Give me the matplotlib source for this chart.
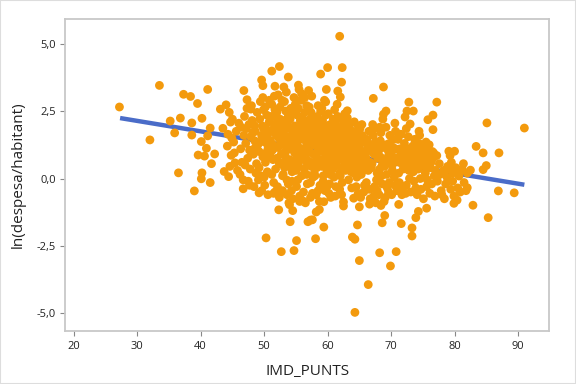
import matplotlib
matplotlib.use("Agg")
import matplotlib.pyplot as plt
from matplotlib.ticker import FuncFormatter, FixedLocator
from matplotlib.patches import Rectangle

# ---- data (IMD_PUNTS, ln(despesa/habitant)) ----
outlier_pts = [
    (27.2, 2.65), (32.0, 1.43), (33.5, 3.45), (35.2, 2.13), (35.9, 1.69), (36.5, 0.21),
    (36.8, 2.24), (37.3, 3.12), (38.4, 3.04), (38.6, 2.06), (38.6, 1.61), (39.0, -0.46),
    (39.5, 2.78), (39.6, 0.87), (40.1, 1.37), (40.2, 2.23), (40.1, -0.01), (40.2, 0.21),
    (40.6, 0.83), (41.1, 3.30), (40.9, 1.12), (41.1, 1.58), (41.5, 1.87), (41.5, -0.15),
    (41.7, 0.55), (42.2, 0.91), (43.1, 2.57), (43.5, 1.86), (43.7, 0.26), (44.0, 2.73),
    (44.3, 1.64), (44.4, 0.07), (44.7, 2.09), (44.8, 0.86), (45.4, 0.58), (46.8, 3.26),
    (46.7, -0.38), (47.3, 2.92), (47.9, 2.57), (47.7, -0.25), (49.2, -0.53), (49.6, 3.65),
    (49.8, 3.44), (50.3, -2.20), (51.2, 3.98), (51.7, -0.50), (51.7, 3.42), (52.4, 4.15),
    (52.3, -1.16), (52.7, -2.71), (53.1, 3.39), (53.6, -0.06), (53.8, 3.76), (54.0, -0.97),
    (54.1, -1.60), (54.5, -1.19), (54.7, -2.67), (55.1, -2.30), (55.4, 3.46), (55.9, 3.14),
    (55.6, -0.85), (56.2, -0.84), (56.9, -1.60), (57.0, 3.26), (57.3, -1.54), (57.6, -1.53),
    (58.1, -2.23), (58.2, -1.24), (58.7, -1.15), (58.9, 3.87), (59.4, -1.80), (59.7, 2.84),
    (59.8, 3.30), (59.4, -0.86), (60.0, 4.11), (61.9, 5.27), (61.6, 3.24), (62.0, 3.02),
    (62.2, 3.57), (62.3, 4.11), (62.5, -1.02), (62.5, -0.87), (63.1, 2.51), (64.1, -0.73),
    (63.9, -2.17), (64.3, -2.25), (64.3, -4.96), (64.7, -1.72), (65.0, -1.05), (65.0, -3.04),
    (66.4, -3.93), (67.2, 2.97), (68.2, -2.75), (68.8, 2.38), (68.8, 3.39), (69.2, 2.50),
    (68.6, -1.64), (69.0, -1.37), (69.9, -3.24), (70.8, -2.71), (71.2, -0.96), (71.6, -1.67),
    (71.6, 1.64), (72.2, 2.28), (72.5, 2.50), (72.8, 2.83), (73.0, 2.02), (73.3, -1.83),
    (73.3, -2.13), (73.5, 2.50), (73.9, -1.45), (74.3, -1.22), (75.6, -1.10), (75.8, 2.18),
    (76.6, 2.35), (76.6, 1.81), (77.2, 2.83), (79.1, 1.01), (80.0, 1.01), (79.7, -0.10),
    (79.9, -0.92), (80.7, 0.09), (81.4, 0.55), (82.0, -0.34), (82.5, 0.31), (82.9, -0.99),
    (83.4, 1.19), (84.5, 0.95), (84.5, 0.33), (85.1, 2.06), (85.0, 0.48), (85.3, -1.45),
    (86.9, -0.46), (87.0, 0.95), (89.4, -0.53), (91.0, 1.87),
]

blob_pts = [
    (44.2,1.2),(44.6,0.45),(44.9,1.5),(44.5,2.45),(45.0,2.2),(45.3,0.95),(45.6,1.75),(45.8,0.3),(45.2,1.35),
    (46.0,2.05),(46.3,1.1),(46.5,0.6),(46.8,1.6),(46.2,0.15),(46.9,2.3),(46.4,1.9),(46.7,-0.05),
    (47.1,1.3),(47.4,0.75),(47.6,2.0),(47.2,1.85),(47.8,0.35),(47.5,-0.1),(47.9,1.55),(47.3,2.6),(47.7,1.05),(47.0,0.5),
    (48.1,2.15),(48.3,0.9),(48.5,1.4),(48.7,0.2),(48.2,1.7),(48.9,2.45),(48.4,-0.3),(48.6,1.15),(48.8,0.55),(48.0,2.7),(48.5,1.95),
    (49.0,1.25),(49.2,0.4),(49.4,2.85),(49.6,1.6),(49.8,0.8),(49.1,-0.05),(49.3,2.2),(49.7,1.95),(49.5,0.1),(49.9,2.55),(49.2,1.0),(49.6,-0.45),(49.8,3.0),
    (50.0,1.5),(50.2,0.6),(50.4,2.35),(50.6,1.1),(50.8,2.9),(50.1,-0.25),(50.3,1.85),(50.5,0.25),(50.7,1.7),(50.9,0.9),(50.2,2.65),(50.6,-0.6),(50.4,1.3),(50.8,2.1),(50.0,0.05),
    (51.0,1.4),(51.2,2.75),(51.4,0.7),(51.6,1.9),(51.8,0.35),(51.1,2.3),(51.3,1.05),(51.5,-0.15),(51.7,2.55),(51.9,1.6),(51.2,0.15),(51.6,3.05),(51.4,1.25),(51.8,2.0),(51.0,0.8),(51.5,-0.55),
    (52.0,2.45),(52.2,1.15),(52.4,0.55),(52.6,1.8),(52.8,2.9),(52.1,-0.3),(52.3,1.5),(52.5,2.2),(52.7,0.9),(52.9,0.1),(52.2,3.1),(52.6,1.35),(52.4,-0.7),(52.8,1.95),(52.0,0.75),(52.5,2.65),(52.9,-0.45),
    (53.0,1.7),(53.2,0.4),(53.4,2.5),(53.6,1.2),(53.8,-0.2),(53.1,2.05),(53.3,0.85),(53.5,3.2),(53.7,1.55),(53.9,0.65),(53.2,2.85),(53.6,-0.6),(53.4,1.0),(53.8,2.3),(53.0,0.15),(53.5,1.85),(53.9,-0.9),
    (54.0,1.35),(54.2,2.6),(54.4,0.25),(54.6,1.75),(54.8,0.95),(54.1,2.2),(54.3,-0.45),(54.5,1.5),(54.7,3.0),(54.9,0.55),(54.2,1.1),(54.6,2.4),(54.4,-0.1),(54.8,1.95),(54.0,0.7),(54.5,-0.75),(54.9,2.75),(54.3,1.6),
    (55.0,1.25),(55.2,2.35),(55.4,0.5),(55.6,1.65),(55.8,2.9),(55.1,-0.3),(55.3,1.9),(55.5,0.85),(55.7,2.15),(55.9,0.1),(55.2,1.45),(55.6,-0.65),(55.4,2.6),(55.8,1.1),(55.0,0.3),(55.5,3.3),(55.9,1.75),(55.3,-0.05),
    (56.0,1.55),(56.2,0.7),(56.4,2.45),(56.6,1.15),(56.8,-0.2),(56.1,2.0),(56.3,0.35),(56.5,1.8),(56.7,2.7),(56.9,0.95),(56.2,-0.5),(56.6,1.4),(56.4,3.0),(56.8,0.55),(56.0,2.25),(56.5,-0.9),(56.9,1.6),(56.3,1.05),(56.7,0.15),
    (57.0,1.3),(57.2,2.2),(57.4,0.45),(57.6,1.7),(57.8,0.9),(57.1,2.65),(57.3,-0.15),(57.5,1.5),(57.7,2.0),(57.9,0.2),(57.2,1.0),(57.6,-0.55),(57.4,2.45),(57.8,1.25),(57.0,0.65),(57.5,3.05),(57.9,1.85),(57.3,-0.7),(57.7,0.05),
    (58.0,1.6),(58.2,0.8),(58.4,2.3),(58.6,1.2),(58.8,-0.25),(58.1,1.95),(58.3,0.4),(58.5,2.7),(58.7,1.45),(58.9,0.6),(58.2,-0.6),(58.6,2.05),(58.4,1.0),(58.8,1.75),(58.0,0.1),(58.5,-0.45),(58.9,2.5),(58.3,1.3),(58.7,-0.85),
    (59.0,1.25),(59.2,2.15),(59.4,0.55),(59.6,1.65),(59.8,0.85),(59.1,2.6),(59.3,-0.1),(59.5,1.4),(59.7,2.35),(59.9,0.3),(59.2,1.0),(59.6,-0.45),(59.4,1.85),(59.8,1.15),(59.0,0.7),(59.5,2.9),(59.9,-0.3),(59.3,0.1),
    (60.0,1.55),(60.2,0.75),(60.4,2.0),(60.6,1.2),(60.8,0.35),(60.1,2.4),(60.3,-0.2),(60.5,1.7),(60.7,0.95),(60.9,2.2),(60.2,-0.55),(60.6,1.45),(60.4,0.15),(60.8,1.9),(60.0,1.0),(60.5,-0.7),(60.9,0.6),
    (61.0,1.3),(61.2,2.1),(61.4,0.5),(61.6,1.6),(61.8,0.85),(61.1,2.55),(61.3,-0.3),(61.5,1.15),(61.7,1.9),(61.9,0.2),(61.2,-0.65),(61.6,2.3),(61.4,0.95),(61.8,1.45),(61.0,0.05),(61.5,2.75),(61.9,-0.4),
    (62.0,1.5),(62.2,0.7),(62.4,2.15),(62.6,1.05),(62.8,0.3),(62.1,1.85),(62.3,-0.15),(62.5,1.35),(62.7,2.4),(62.9,0.55),(62.2,-0.6),(62.6,1.7),(62.4,0.9),(62.8,1.2),(62.0,0.1),(62.5,2.0),
    (63.0,1.25),(63.2,0.45),(63.4,1.9),(63.6,0.8),(63.8,1.5),(63.1,2.25),(63.3,-0.05),(63.5,1.05),(63.7,0.25),(63.9,1.75),(63.2,1.4),(63.6,2.05),(63.4,0.6),(63.8,-0.35),(63.0,0.95),
    (64.0,1.1),(64.2,0.5),(64.4,1.7),(64.6,0.85),(64.8,1.95),(64.1,0.2),(64.3,1.35),(64.5,-0.3),(64.7,0.6),(64.9,1.5),(64.2,2.1),(64.6,0.05),(64.4,1.0),(64.8,-0.55),
    (65.0,1.2),(65.2,0.45),(65.4,1.6),(65.6,0.7),(65.8,-0.25),(65.1,1.85),(65.3,0.15),(65.5,1.0),(65.7,-0.5),(65.9,1.35),(65.2,-0.7),(65.6,0.3),(65.4,2.0),(65.8,0.9),
    (66.0,0.8),(66.2,1.45),(66.4,0.3),(66.6,-0.4),(66.8,1.1),(66.1,-0.15),(66.3,0.6),(66.5,1.75),(66.7,-0.75),(66.9,0.4),(66.2,1.0),(66.6,-0.95),(66.4,1.3),
    (67.0,0.55),(67.2,1.6),(67.4,-0.3),(67.6,0.95),(67.8,0.2),(67.1,2.0),(67.3,-0.65),(67.5,1.35),(67.7,-0.05),(67.9,0.75),(67.2,1.15),(67.6,-0.9),(67.4,1.85),(67.8,-0.45),
    (68.0,1.0),(68.2,0.35),(68.4,1.7),(68.6,-0.2),(68.8,0.7),(68.1,-0.6),(68.3,1.4),(68.5,0.1),(68.7,2.2),(68.9,-0.85),(68.2,1.9),(68.6,0.5),(68.4,-1.0),
    (69.0,0.45),(69.2,1.25),(69.4,-0.35),(69.6,0.85),(69.8,1.6),(69.1,-0.7),(69.3,0.15),(69.5,1.05),(69.7,-0.15),(69.9,0.6),(69.2,1.9),(69.6,-0.5),
    (70.0,0.9),(70.2,0.3),(70.4,1.45),(70.6,-0.25),(70.8,0.65),(70.1,-0.6),(70.3,1.15),(70.5,0.05),(70.7,1.75),(70.9,-0.45),(70.2,0.5),(70.6,2.05),
    (71.0,0.75),(71.2,0.2),(71.4,1.1),(71.6,-0.35),(71.8,0.55),(71.1,1.45),(71.3,-0.15),(71.5,0.95),(71.7,-0.6),(71.9,0.35),(71.2,1.65),
    (72.0,0.6),(72.2,1.0),(72.4,-0.25),(72.6,0.8),(72.8,0.3),(72.1,1.3),(72.3,-0.55),(72.5,0.45),(72.7,1.55),(72.9,0.0),(72.4,1.85),
    (73.0,0.9),(73.2,0.45),(73.4,1.2),(73.6,-0.1),(73.8,0.7),(73.1,-0.5),(73.3,1.0),(73.5,0.25),(73.7,1.45),(73.9,-0.35),(73.2,0.6),
    (74.0,1.05),(74.2,0.55),(74.4,1.3),(74.6,0.0),(74.8,0.8),(74.1,-0.6),(74.3,0.35),(74.5,1.6),(74.7,-0.4),(74.9,1.15),(74.4,1.75),
    (75.0,0.7),(75.2,1.1),(75.4,0.2),(75.6,-0.3),(75.8,0.9),(75.1,-0.75),(75.3,0.45),(75.5,1.35),(75.7,-0.05),(75.9,0.6),
    (76.0,1.25),(76.2,0.4),(76.4,-0.2),(76.6,0.75),(76.8,0.1),(76.1,-0.55),(76.5,1.0),(76.9,-0.65),
    (77.0,0.3),(77.3,-0.1),(77.6,0.55),(77.9,-0.45),(77.2,0.85),(77.7,0.15),
    (78.0,-0.6),(78.3,0.3),(78.6,-0.2),(78.9,0.45),(78.4,-0.75),(78.8,0.05),
    (79.1,0.35),(79.4,-0.4),(79.7,0.2),(79.3,0.85),(79.9,-0.65),(79.5,0.6),
    (80.2,0.4),(80.5,-0.35),(80.8,0.25),(80.4,-0.8),(80.9,-0.5),
    (81.2,0.35),(81.5,-0.15),(81.8,-0.45),(82.0,0.2),
]

# extra points filling the densest core of the cloud
core_pts = [
    (48.6,1.75),(49.4,1.35),(49.9,1.85),(50.5,1.55),(50.9,1.25),(50.3,0.95),(51.3,1.75),(51.7,1.15),(51.9,2.25),
    (52.3,1.7),(52.7,1.25),(52.9,2.15),(52.1,1.95),(53.3,1.45),(53.7,1.95),(53.9,1.1),(53.1,0.6),(54.3,1.85),
    (54.7,1.25),(54.9,1.6),(54.1,0.45),(55.3,1.2),(55.7,1.45),(55.9,2.2),(55.1,0.75),(56.3,1.6),(56.7,1.3),
    (56.9,2.05),(56.1,0.9),(57.3,1.85),(57.7,1.45),(57.9,0.6),(57.1,1.55),(58.3,1.75),(58.7,1.0),(58.9,1.35),
    (58.1,2.25),(59.3,1.6),(59.7,1.0),(59.9,1.95),(59.1,0.45),(60.3,1.35),(60.7,1.65),(60.9,1.1),(60.1,0.5),
    (61.3,1.8),(61.7,1.2),(61.9,1.65),(61.1,0.7),(62.3,1.25),(62.7,0.8),(62.9,1.6),(62.1,0.4),(63.3,1.15),
    (63.7,1.3),(63.9,0.55),(63.1,1.75),(64.3,0.75),(64.7,1.25),(64.9,0.35),(65.3,0.85),(65.7,1.4),(65.9,0.55),
    (66.3,1.15),(66.7,0.6),(67.3,0.9),(67.7,1.2),(68.3,0.8),(68.7,1.15),(69.3,0.7),(69.7,1.3),(70.3,0.8),
    (70.7,1.1),(71.3,0.6),(71.7,0.85),(72.3,0.75),(72.7,1.1),(73.3,0.75),(73.7,0.95),(74.3,0.9),(74.7,0.55),
    (75.3,0.85),(75.7,1.1),(76.3,0.6),(76.7,0.95),
]

all_pts = outlier_pts + blob_pts + core_pts
imd_punts = [p[0] for p in all_pts]
ln_despesa = [p[1] for p in all_pts]

fit_x = [27.3, 91.0]
fit_y = [2.24, -0.23]

x_ticks = [20, 30, 40, 50, 60, 70, 80, 90]
y_ticks = [-5.0, -2.5, 0.0, 2.5, 5.0]

plt.rcParams['font.family'] = ['Open Sans', 'DejaVu Sans']

fig = plt.figure(figsize=(5.76, 3.84), dpi=100)
ax = fig.add_axes([0.1135, 0.138, 0.8395, 0.8125])

ax.plot(fit_x, fit_y, color='#4a6cc8', lw=3.2, solid_capstyle='butt', zorder=2)
ax.scatter(imd_punts, ln_despesa, s=40, color='#f39a0d', edgecolors='none', zorder=3)

ax.set_xlim(18.68, 94.87)
ax.set_ylim(-5.65, 5.91)
ax.xaxis.set_major_locator(FixedLocator(x_ticks))
ax.yaxis.set_major_locator(FixedLocator(y_ticks))
ax.yaxis.set_major_formatter(FuncFormatter(lambda v, p: f"{v:.1f}".replace('.', ',')))
ax.tick_params(axis='both', labelsize=8, colors='#888888', labelcolor='#222222',
               length=3.5, width=0.8, direction='out')

for s in ax.spines.values():
    s.set_color('#c8c8c8')
    s.set_linewidth(1.3)

ax.set_xlabel('IMD_PUNTS', fontsize=11, color='#222222', labelpad=9)
ax.set_ylabel('ln(despesa/habitant)', fontsize=11, color='#222222', labelpad=8)

fig.patches.append(Rectangle((0, 0), 1, 1, transform=fig.transFigure, fill=False,
                             edgecolor='#dddddd', lw=1.5))

fig.savefig('out.png', dpi=100)
